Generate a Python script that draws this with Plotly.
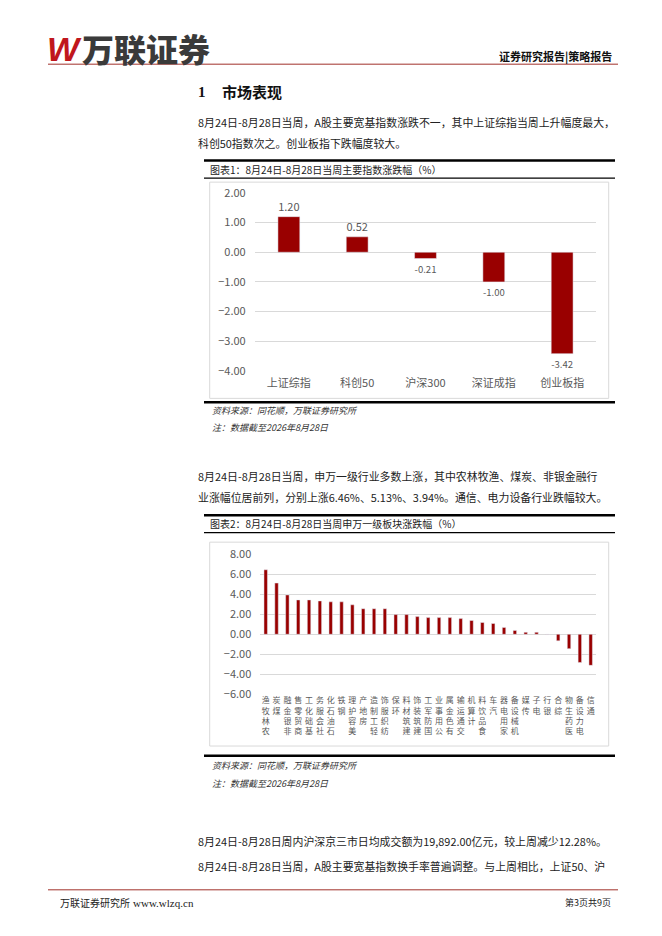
import plotly.graph_objects as go

# Figure 1: weekly change of major indices (%)
index_names = ["上证综指", "科创50", "沪深300", "深证成指", "创业板指"]
index_chg = [1.20, 0.52, -0.21, -1.00, -3.42]

# Figure 2: weekly change of Shenwan level-1 industries (%)
industries = ["农林牧渔", "煤炭", "非银金融", "商贸零售", "基础化工", "社会服务", "石油石化",
              "钢铁", "美容护理", "房地产", "轻工制造", "纺织服饰", "环保", "建筑材料",
              "建筑装饰", "国防军工", "公用事业", "有色金属", "交通运输", "计算机", "食品饮料",
              "汽车", "家用电器", "机械设备", "传媒", "电子", "银行", "综合", "医药生物",
              "电力设备", "通信"]
industry_chg = [6.46, 5.13, 3.94, 3.44, 3.44, 3.34, 3.25, 3.25, 2.95, 2.56, 2.56, 2.56,
                1.97, 1.97, 1.77, 1.67, 1.67, 1.67, 1.57, 1.38, 1.18, 1.08, 0.69, 0.39,
                0.20, 0.20, -0.03, -0.66, -1.44, -2.82, -3.11]
# vertical labels, read from bottom to top
industry_ticks = ["<br>".join(reversed(n)) for n in industries]

W, H = 662, 936
CJK = "Noto Sans CJK SC"
BAR = "#990000"
GRID = "#D9D9D9"
AXTXT = "#595959"


def px(x):
    return x / W


def py(y):
    return 1 - y / H


fig = go.Figure()

fig.add_trace(go.Bar(
    x=index_names, y=index_chg, marker_color=BAR,
    texttemplate="%{y:.2f}", textposition="outside", cliponaxis=False,
    textfont=dict(family=CJK, size=11, color=AXTXT),
    xaxis="x", yaxis="y",
))
fig.add_trace(go.Bar(
    x=industries, y=industry_chg, marker_color=BAR,
    xaxis="x2", yaxis="y2",
))

axis_font = dict(family=CJK, size=11, color=AXTXT)
fig.update_layout(
    width=W, height=H,
    margin=dict(l=0, r=0, t=0, b=0),
    paper_bgcolor="white", plot_bgcolor="white",
    showlegend=False, bargap=0.68,
    xaxis=dict(domain=[px(246.7), px(588.3)], anchor="y", showgrid=False,
               showline=False, ticks="", ticklabelstandoff=4,
               tickfont=dict(family=CJK, size=11, color=AXTXT)),
    yaxis=dict(domain=[py(360), py(179)], anchor="x", range=[-4, 2], dtick=1,
               tickformat=".2f", showgrid=True, gridcolor=GRID, zeroline=True,
               zerolinecolor=GRID, zerolinewidth=1, tickfont=axis_font, ticklabelstandoff=8),
    xaxis2=dict(domain=[px(252.3), px(588.1)], anchor="y2", showgrid=False,
                showline=False, ticks="", tickangle=0, ticktext=industry_ticks,
                tickvals=industries, tickfont=dict(family=CJK, size=8, color=AXTXT)),
    yaxis2=dict(domain=[py(689), py(546.7)], anchor="x2", range=[-6, 8], dtick=2,
                tickformat=".2f", showgrid=True, gridcolor=GRID, zeroline=True,
                zerolinecolor=GRID, zerolinewidth=1, tickfont=axis_font, ticklabelstandoff=8),
)

shapes = []


def hline(y, x0, x1, color="black", width=1):
    shapes.append(dict(type="line", xref="paper", yref="paper", x0=px(x0), x1=px(x1),
                       y0=py(y), y1=py(y), line=dict(color=color, width=width)))


def box(x0, y0, x1, y1):
    shapes.append(dict(type="rect", xref="paper", yref="paper", x0=px(x0), x1=px(x1),
                       y0=py(y1), y1=py(y0), line=dict(color=GRID, width=1)))


# header / footer rules
hline(48, 40, 610, "#A0302A", 1)
hline(888, 40, 610, "#A0302A", 1)

# chart 1 frame
hline(146, 196, 607, width=2.5)
hline(164, 196, 607, width=1.2)
box(201.7, 168, 600.7, 388)
hline(392, 196, 607, width=2.5)

# chart 2 frame
hline(507, 196, 607, width=2.5)
hline(524.5, 196, 607, width=1.2)
box(201.7, 534.3, 600.7, 741.7)
hline(751.7, 196, 607, width=2.5)

fig.update_layout(shapes=shapes)

anns = []


def text(x, y, s, size=11, color="#222222", anchor="left", family=CJK, **font):
    anns.append(dict(x=px(x), y=py(y), xref="paper", yref="paper", text=s,
                     showarrow=False, xanchor=anchor, yanchor="middle",
                     font=dict(family=family, size=size, color=color, **font)))


# logo and header
text(37, 33, "<b><i>W</i></b>", size=34, color="#C0171D", family="Liberation Sans")
text(72, 32, "万联证券", size=32, color="#3A3A3A", weight=900)
text(606, 40, "证券研究报告|策略报告", size=11, color="#111111", anchor="right", weight=700)

# section heading
text(188, 76, "1", size=15, color="#111111", weight=700, family="Liberation Serif")
text(212, 76, "市场表现", size=15, color="#111111", weight=700)

# paragraphs
text(188, 107, "8月24日-8月28日当周，A股主要宽基指数涨跌不一，其中上证综指当周上升幅度最大，", size=10.9)
text(188, 128, "科创50指数次之。创业板指下跌幅度较大。", size=10.9)
text(188, 467, "8月24日-8月28日当周，申万一级行业多数上涨，其中农林牧渔、煤炭、非银金融行", size=10.9)
text(188, 488, "业涨幅位居前列，分别上涨6.46%、5.13%、3.94%。通信、电力设备行业跌幅较大。", size=10.9)
text(188, 838, "8月24日-8月28日周内沪深京三市日均成交额为19,892.00亿元，较上周减少12.28%。", size=10.9)
text(188, 864, "8月24日-8月28日当周，A股主要宽基指数换手率普遍调整。与上周相比，上证50、沪", size=10.9)

# chart titles and notes
text(200, 155, "图表1：8月24日-8月28日当周主要指数涨跌幅（%）", size=10)
text(200, 515.5, "图表2：8月24日-8月28日当周申万一级板块涨跌幅（%）", size=10)
for y0 in (400, 761.7):
    text(202, y0, "资料来源：同花顺，万联证券研究所", size=9, color="#333333", style="italic")
    text(202, y0 + 18, "注：数据截至2026年8月28日", size=9, color="#333333", style="italic")

# footer
text(50, 901, "万联证券研究所", size=10, color="#222222")
text(123, 901, "www.wlzq.cn", size=11, color="#222222", family="Liberation Serif")
text(605, 901, "第3页共9页", size=9, color="#222222", anchor="right")

fig.update_layout(annotations=anns)

fig.write_html("out.html")
